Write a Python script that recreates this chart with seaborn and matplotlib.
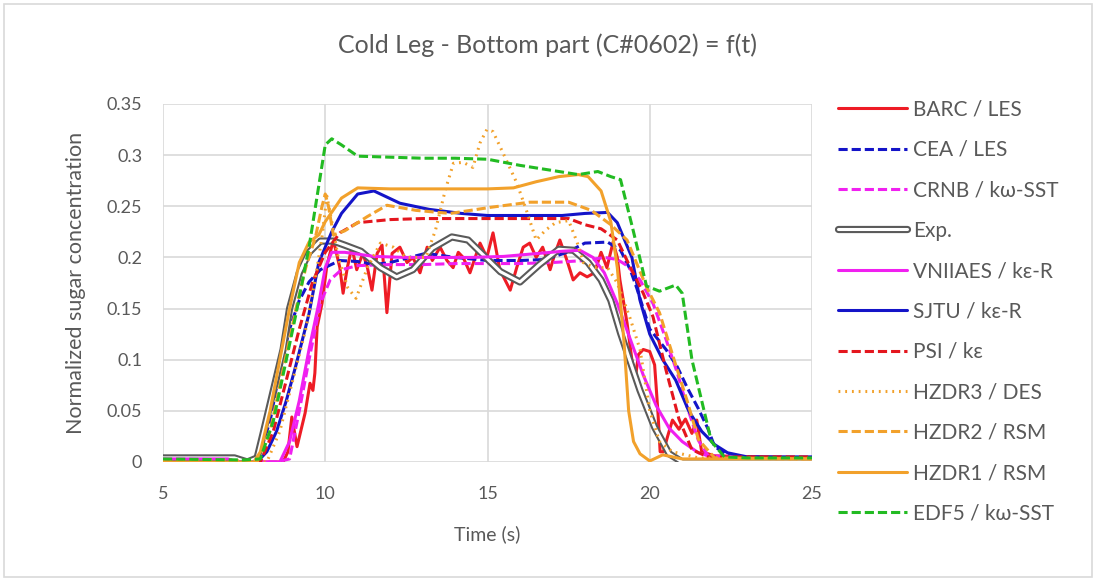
import matplotlib
matplotlib.use("Agg")
import matplotlib.pyplot as plt
from matplotlib.lines import Line2D
from matplotlib.patches import Rectangle
from matplotlib.legend_handler import HandlerTuple
import seaborn as sns
import pandas as pd

# ---- series (time in s, normalized sugar concentration) ----
t_barc = [5, 8.7, 8.85, 8.97, 9.13, 9.38, 9.53, 9.62, 9.68, 9.75, 9.9, 10.05, 10.25, 10.45, 10.55, 10.68,
          10.82, 10.97, 11.16, 11.3, 11.44, 11.6, 11.75, 11.9, 12.06, 12.3, 12.52, 12.7, 12.92, 13.14, 13.3,
          13.54, 13.75, 13.94, 14.1, 14.25, 14.46, 14.77, 14.98, 15.17, 15.38, 15.7, 15.9, 16.1, 16.3, 16.5,
          16.7, 16.93, 17.08, 17.23, 17.45, 17.64, 17.85, 18.07, 18.3, 18.5, 18.68, 18.87, 19.0, 19.08, 19.3,
          19.45, 19.55, 19.65, 19.8, 20.0, 20.15, 20.25, 20.32, 20.42, 20.55, 20.7, 20.9, 21.1, 21.3, 21.45,
          21.6, 22.0, 25]
c_barc = [0, 0, 0.01, 0.044, 0.015, 0.048, 0.077, 0.07, 0.087, 0.132, 0.155, 0.192, 0.217, 0.19, 0.165, 0.19,
          0.21, 0.188, 0.204, 0.19, 0.168, 0.204, 0.212, 0.146, 0.204, 0.21, 0.195, 0.2, 0.185, 0.21, 0.197,
          0.21, 0.197, 0.19, 0.205, 0.2, 0.185, 0.214, 0.2, 0.224, 0.188, 0.168, 0.19, 0.21, 0.214, 0.2,
          0.21, 0.188, 0.204, 0.217, 0.197, 0.178, 0.185, 0.181, 0.185, 0.205, 0.19, 0.215, 0.2, 0.178, 0.136,
          0.1, 0.08, 0.105, 0.11, 0.108, 0.095, 0.05, 0.01, 0.01, 0.025, 0.041, 0.032, 0.042, 0.028, 0.041,
          0.01, 0.006, 0.004]

t_cea = [5, 7.7, 8.0, 8.3, 8.6, 8.9, 9.2, 9.5, 9.85, 10.45, 11.0, 11.5, 12.0, 12.6, 13.1, 14, 15, 16, 16.8,
         17.45, 18.0, 18.7, 19.1, 19.4, 19.6, 20.0, 20.5, 20.85, 21.15, 21.5, 21.8, 22.0, 22.5, 25]
c_cea = [0.0, 0.0, 0.01, 0.04, 0.09, 0.13, 0.158, 0.176, 0.188, 0.197, 0.196, 0.193, 0.195, 0.2, 0.204, 0.2,
         0.197, 0.197, 0.198, 0.205, 0.214, 0.215, 0.207, 0.188, 0.17, 0.13, 0.11, 0.093, 0.073, 0.052, 0.032,
         0.015, 0.005, 0.004]

t_crnb = [5, 8.5, 8.9, 9.2, 9.5, 9.85, 10.15, 10.5, 11, 12, 13, 14, 15, 16, 17, 18, 18.6, 19.0, 19.3, 19.7,
          20.1, 20.5, 20.85, 21.15, 21.5, 21.8, 25]
c_crnb = [0.0, 0.0, 0.003, 0.05, 0.1, 0.155, 0.178, 0.188, 0.192, 0.193, 0.193, 0.194, 0.194, 0.194, 0.195,
          0.197, 0.2, 0.198, 0.192, 0.178, 0.155, 0.12, 0.087, 0.054, 0.021, 0.006, 0.003]

t_exp = [5, 7.2, 7.6, 7.9, 8.1, 8.4, 8.7, 8.9, 9.2, 9.5, 9.85, 10.25, 10.6, 11.1, 11.7, 12.2, 12.7, 13.3,
         13.9, 14.4, 14.85, 15.4, 16.0, 16.6, 17.2, 17.65, 18.1, 18.5, 18.8, 19.1, 19.7, 20.15, 20.6, 21.0, 25]
c_exp = [0.004, 0.004, 0.0, 0.004, 0.03, 0.07, 0.11, 0.15, 0.185, 0.205, 0.216, 0.216, 0.212, 0.206, 0.19,
         0.181, 0.188, 0.209, 0.22, 0.217, 0.203, 0.186, 0.176, 0.193, 0.208, 0.207, 0.195, 0.178, 0.158,
         0.126, 0.07, 0.034, 0.008, 0.0, 0.0]

t_vniiaes = [5, 7.0, 7.3, 8.6, 8.9, 9.2, 9.5, 9.8, 10.0, 10.2, 10.6, 11.5, 12.5, 13.5, 14.5, 15.5, 16.6, 17.3,
             17.85, 18.25, 18.6, 19.0, 19.4, 19.8, 20.2, 20.6, 21.0, 21.5, 22, 25]
c_vniiaes = [0.003, 0.003, 0.0, 0.0, 0.02, 0.06, 0.11, 0.155, 0.19, 0.205, 0.205, 0.201, 0.2, 0.2, 0.2, 0.201,
             0.204, 0.206, 0.207, 0.2, 0.185, 0.155, 0.12, 0.085, 0.055, 0.033, 0.02, 0.009, 0.004, 0.004]

t_sjtu = [5, 7.9, 8.2, 8.5, 8.8, 9.1, 9.5, 9.8, 10.2, 10.5, 11.0, 11.5, 12.3, 13.2, 14.2, 15, 16, 17.3, 18.0,
          18.7, 19.0, 19.45, 19.7, 20.0, 20.4, 20.8, 21.2, 21.6, 22.0, 22.4, 23, 25]
c_sjtu = [0.0, 0.0, 0.01, 0.03, 0.06, 0.095, 0.145, 0.195, 0.225, 0.243, 0.262, 0.265, 0.253, 0.247, 0.243,
          0.241, 0.241, 0.241, 0.243, 0.244, 0.234, 0.2, 0.158, 0.125, 0.10, 0.08, 0.05, 0.03, 0.017, 0.009,
          0.005, 0.005]

t_psi = [5, 8.0, 8.4, 8.8, 9.2, 9.6, 10.0, 10.45, 11.0, 12, 13, 14, 15, 16, 17, 17.5, 18.0, 18.5, 19.0, 19.3,
         19.8, 20.1, 20.5, 20.9, 21.3, 21.8, 25]
c_psi = [0.0, 0.0, 0.03, 0.08, 0.13, 0.175, 0.205, 0.224, 0.234, 0.237, 0.238, 0.238, 0.238, 0.238, 0.238,
         0.238, 0.232, 0.228, 0.217, 0.197, 0.165, 0.142, 0.09, 0.042, 0.012, 0.005, 0.005]

t_hzdr3 = [5, 7.2, 7.5, 8.2, 8.6, 9.0, 9.4, 9.7, 9.9, 10.05, 10.2, 10.4, 10.7, 10.95, 11.3, 11.7, 12.1, 12.5,
           13.1, 13.4, 13.7, 13.95, 14.25, 14.55, 14.77, 14.98, 15.17, 15.48, 15.9, 16.2, 16.5, 16.8, 17.1,
           17.5, 17.76, 17.95, 18.3, 18.7, 19.0, 19.4, 19.7, 20.0, 20.3, 20.7, 21.5, 25]
c_hzdr3 = [0.002, 0.002, 0.0, 0.0, 0.03, 0.08, 0.13, 0.18, 0.22, 0.26, 0.235, 0.2, 0.17, 0.16, 0.19, 0.214,
           0.21, 0.2, 0.2, 0.227, 0.266, 0.292, 0.293, 0.288, 0.312, 0.325, 0.323, 0.302, 0.273, 0.246, 0.217,
           0.227, 0.234, 0.236, 0.215, 0.195, 0.19, 0.19, 0.175, 0.14, 0.11, 0.05, 0.02, 0.01, 0.004, 0.003]

t_hzdr2 = [5, 7.9, 8.3, 8.7, 9.1, 9.4, 9.7, 9.9, 10.0, 10.1, 10.25, 10.6, 11.3, 11.9, 12.8, 13.85, 15.1, 16.3,
           17.5, 18.2, 18.8, 19.3, 19.9, 20.3, 20.8, 21.15, 21.5, 22, 25]
c_hzdr2 = [0.0, 0.0, 0.03, 0.09, 0.15, 0.19, 0.22, 0.25, 0.262, 0.25, 0.222, 0.226, 0.24, 0.251, 0.246, 0.243,
           0.249, 0.254, 0.254, 0.246, 0.232, 0.217, 0.171, 0.146, 0.095, 0.06, 0.022, 0.004, 0.003]

t_hzdr1 = [5, 7.8, 8.0, 8.3, 8.6, 8.9, 9.2, 9.5, 9.8, 10.0, 10.5, 11.0, 12, 13, 14, 15, 15.8, 16.5, 17.2, 17.8,
           18.1, 18.5, 18.8, 19.0, 19.2, 19.35, 19.5, 19.7, 20.0, 20.4, 21, 25]
c_hzdr1 = [0.0, 0.0, 0.01, 0.05, 0.10, 0.15, 0.195, 0.215, 0.222, 0.235, 0.258, 0.268, 0.267, 0.267, 0.267,
           0.267, 0.268, 0.274, 0.279, 0.281, 0.279, 0.265, 0.235, 0.19, 0.12, 0.05, 0.02, 0.008, 0.001, 0.007,
           0.003, 0.003]

t_edf5 = [5, 7.5, 8.0, 8.4, 8.8, 9.1, 9.5, 9.8, 10.0, 10.2, 10.5, 11.0, 12, 13, 14, 15, 16, 17, 17.8, 18.4,
          18.8, 19.1, 19.5, 19.9, 20.3, 20.8, 21.0, 21.3, 21.6, 21.9, 22.3, 23, 25]
c_edf5 = [0.003, 0.002, 0.003, 0.04, 0.10, 0.145, 0.21, 0.27, 0.31, 0.316, 0.31, 0.299, 0.298, 0.297, 0.297,
          0.296, 0.29, 0.285, 0.281, 0.284, 0.279, 0.276, 0.225, 0.172, 0.167, 0.173, 0.165, 0.10, 0.06, 0.02,
          0.005, 0.004, 0.004]

x_ticks = [5, 10, 15, 20, 25]
y_ticks = [0, 0.05, 0.1, 0.15, 0.2, 0.25, 0.3, 0.35]
y_tick_labels = ["0", "0.05", "0.1", "0.15", "0.2", "0.25", "0.3", "0.35"]

title = "Cold Leg - Bottom part (C#0602) = f(t)"
x_label = "Time (s)"
y_label = "Normalized sugar concentration"

# ---- styling ----
sns.set_theme(style="white")
plt.rcParams["font.family"] = ["Lato", "DejaVu Sans"]
TXT = "#595959"
GRID = "#D9D9D9"
LW = 2.2
DASH = (0, (3.0, 1.3))
DOT = (0, (0.6, 1.6))

series = [
    ("BARC / LES", t_barc, c_barc, "#EE1C25", "-"),
    ("CEA / LES", t_cea, c_cea, "#1414C8", DASH),
    ("CRNB / kω-SST", t_crnb, c_crnb, "#F020F0", DASH),
    ("Exp.", t_exp, c_exp, "#5A5A5A", "exp"),
    ("VNIIAES / kε-R", t_vniiaes, c_vniiaes, "#F020F0", "-"),
    ("SJTU / kε-R", t_sjtu, c_sjtu, "#1414C8", "-"),
    ("PSI / kε", t_psi, c_psi, "#E4161E", DASH),
    ("HZDR3 / DES", t_hzdr3, c_hzdr3, "#F2A12B", DOT),
    ("HZDR2 / RSM", t_hzdr2, c_hzdr2, "#F2A12B", DASH),
    ("HZDR1 / RSM", t_hzdr1, c_hzdr1, "#F2A12B", "-"),
    ("EDF5 / kω-SST", t_edf5, c_edf5, "#22BB22", DASH),
]

fig = plt.figure(figsize=(10.96, 5.80), dpi=100)
fig.patch.set_facecolor("white")
fig.patches.append(Rectangle((4 / 1096, 3 / 580), 1088 / 1096, 573 / 580, transform=fig.transFigure,
                             fill=False, edgecolor=GRID, linewidth=1.2))

ax = fig.add_axes([163 / 1096, 1 - 462 / 580, (812 - 163) / 1096, (462 - 104) / 580])

handles = []
for name, t, c, color, style in series:
    df = pd.DataFrame({"t": t, "c": c})
    if style == "exp":
        sns.lineplot(data=df, x="t", y="c", ax=ax, color=color, linewidth=5.2, sort=False,
                     estimator=None, solid_capstyle="round", solid_joinstyle="round")
        sns.lineplot(data=df, x="t", y="c", ax=ax, color="white", linewidth=2.2, sort=False,
                     estimator=None, solid_capstyle="round", solid_joinstyle="round")
        h = (Line2D([], [], color=color, lw=5.2, solid_capstyle="round"),
             Line2D([], [], color="white", lw=2.2, solid_capstyle="round"))
    else:
        sns.lineplot(data=df, x="t", y="c", ax=ax, color=color, linewidth=LW, linestyle=style,
                     sort=False, estimator=None)
        h = Line2D([], [], color=color, lw=LW, linestyle=style)
    handles.append(h)

ax.set_xlim(5, 25)
ax.set_ylim(0, 0.35)
ax.set_xticks(x_ticks)
ax.set_xticklabels([str(v) for v in x_ticks])
ax.set_yticks(y_ticks)
ax.set_yticklabels(y_tick_labels)
ax.grid(True, color=GRID, linewidth=1.2)
ax.set_axisbelow(True)
for s in ax.spines.values():
    s.set_visible(False)
ax.tick_params(axis="both", length=0, labelsize=13, colors=TXT)
ax.tick_params(axis="x", pad=17)
ax.tick_params(axis="y", pad=15)
ax.set_xlabel(x_label, fontsize=14, color=TXT)
ax.set_ylabel(y_label, fontsize=15.5, color=TXT)
ax.xaxis.set_label_coords(0.5, (462 - 534) / 358)
ax.xaxis.label.set_va("center")
ax.yaxis.set_label_coords((76 - 163) / 649, 0.5)
ax.yaxis.label.set_va("center")

fig.text(0.5, 1 - 45 / 580, title, ha="center", va="center", fontsize=18, color=TXT)

fig.legend(handles, [s[0] for s in series], loc="upper left",
           bbox_to_anchor=(828 / 1096, 1 - 89 / 580), frameon=False,
           fontsize=15, labelcolor=TXT, handlelength=3.3, handletextpad=0.3,
           labelspacing=0.98, borderpad=0, handler_map={tuple: HandlerTuple(ndivide=1)})

fig.savefig("out.png", dpi=100, facecolor="white")
